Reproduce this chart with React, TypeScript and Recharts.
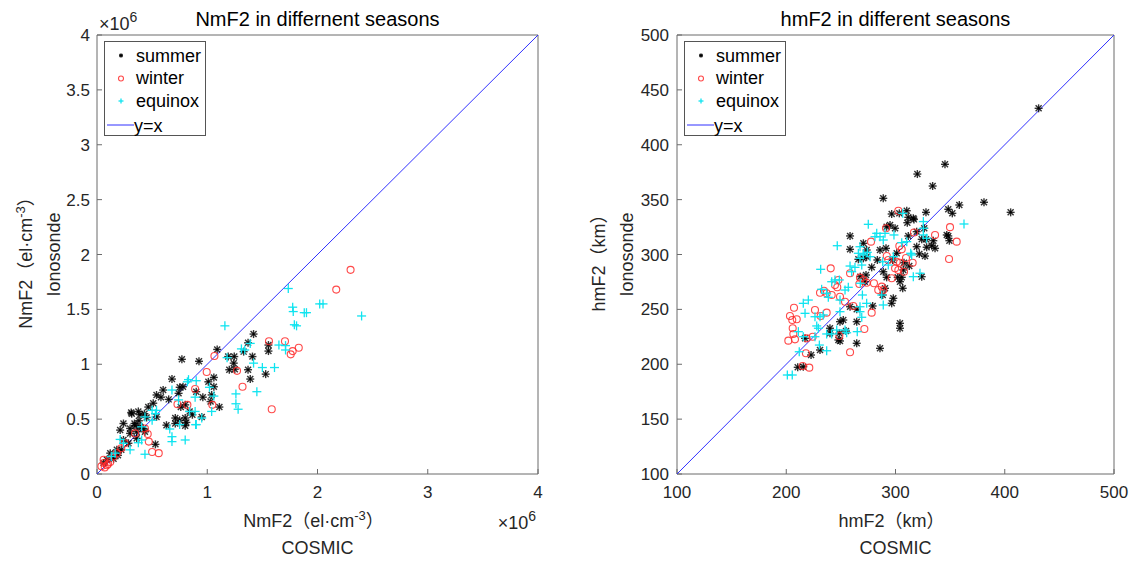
import React from "react";
import {
  ScatterChart,
  Scatter,
  XAxis,
  YAxis,
  Legend,
  Label,
} from "recharts";

type Pair = [number, number];

// NmF2 in units of 10^6 el/cm^3, [COSMIC, Ionosonde]
const nmSummer: Pair[] = [
  [1.42, 1.275], [1.37, 1.195], [1.33, 1.115], [1.09, 1.135], [1.555, 1.175], [1.555, 1.12],
  [1.19, 1.07], [1.245, 1.07], [1.41, 1.07], [1.24, 1.01], [1.2, 0.95], [1.25, 0.955],
  [1.37, 0.95], [1.53, 0.91], [1.39, 0.865], [1.06, 0.88], [1.01, 0.84], [1.06, 0.795],
  [0.77, 1.045], [0.925, 1.027], [0.9, 0.75], [0.96, 0.7], [1.03, 0.66], [1.11, 0.61],
  [0.8, 0.63], [0.76, 0.61], [0.84, 0.57], [0.8, 0.51], [0.8, 0.44], [0.75, 0.49],
  [0.68, 0.865], [0.75, 0.79], [0.58, 0.7], [0.65, 0.68], [0.315, 0.55], [0.39, 0.54],
  [0.54, 0.52], [0.63, 0.445], [0.71, 0.51], [0.38, 0.485], [0.45, 0.515], [0.24, 0.46],
  [0.345, 0.44], [0.21, 0.4], [0.3, 0.415], [0.36, 0.385], [0.42, 0.415], [0.53, 0.27],
  [0.24, 0.31], [0.12, 0.19], [0.18, 0.22], [0.09, 0.13], [0.06, 0.1], [0.31, 0.56],
  [0.375, 0.57], [0.43, 0.55], [0.34, 0.46], [0.39, 0.43], [0.435, 0.385], [0.3, 0.37],
  [0.36, 0.325], [0.285, 0.28], [0.22, 0.22], [0.19, 0.17], [0.15, 0.14], [0.71, 0.46],
  [0.81, 0.47], [0.865, 0.54], [0.95, 0.52], [1.04, 0.72], [0.74, 0.735], [0.78, 0.795],
  [0.6, 0.765], [0.54, 0.72], [0.465, 0.61], [0.51, 0.645],
];

const nmWinter: Pair[] = [
  [2.3, 1.86], [2.17, 1.68], [1.56, 1.21], [1.705, 1.21], [1.775, 1.12], [1.83, 1.15],
  [1.757, 1.09], [1.065, 1.075], [0.995, 0.93], [1.27, 0.94], [1.32, 0.795], [0.89, 0.775],
  [1.585, 0.59], [0.82, 0.63], [1.046, 0.63], [0.73, 0.635], [0.435, 0.415], [0.46, 0.365],
  [0.47, 0.295], [0.5, 0.2], [0.56, 0.19], [0.345, 0.37], [0.25, 0.28], [0.22, 0.235],
  [0.18, 0.19], [0.06, 0.13], [0.09, 0.08], [0.065, 0.1], [0.12, 0.11], [0.15, 0.16],
  [0.07, 0.06], [0.1, 0.09], [0.04, 0.07],
];

const nmEquinox: Pair[] = [
  [1.735, 1.69], [1.775, 1.52], [1.78, 1.48], [1.88, 1.47], [1.9, 1.47], [2.02, 1.55],
  [2.05, 1.55], [2.4, 1.44], [1.79, 1.36], [1.81, 1.35], [1.16, 1.35], [1.65, 1.175],
  [1.71, 1.17], [1.71, 1.13], [1.31, 1.14], [1.5, 0.97], [1.61, 0.97], [1.42, 1.01],
  [1.45, 0.75], [1.26, 0.73], [1.26, 0.64], [1.28, 0.59], [1.06, 0.71], [1.02, 0.79],
  [0.89, 0.7], [0.895, 0.45], [0.95, 0.51], [0.84, 0.57], [0.89, 0.57], [1.04, 0.57],
  [0.83, 0.86], [0.9, 0.85], [1.34, 1.13], [1.39, 1.19], [1.18, 1.06], [0.82, 0.84],
  [0.68, 0.765], [0.74, 0.675], [0.5, 0.58], [0.53, 0.55], [0.9, 0.45], [0.68, 0.34],
  [0.68, 0.295], [0.8, 0.31], [0.66, 0.41], [0.75, 0.45], [0.435, 0.18], [0.375, 0.285],
  [0.405, 0.31], [0.21, 0.315], [0.24, 0.28], [0.3, 0.22], [0.165, 0.19], [0.13, 0.16],
  [0.54, 0.58], [0.5, 0.49], [0.435, 0.52], [0.405, 0.43],
];

// hmF2 in km, [COSMIC, Ionosonde]
const hmSummer: Pair[] = [
  [334, 362.4], [288.8, 351.2], [358.4, 345.1], [381, 347.6], [405.4, 338.4], [348.3, 341.2],
  [352, 337.5], [327.9, 338.4], [296.5, 336.9], [303.5, 337.5], [311.7, 333.9], [316.9, 332],
  [310.8, 329], [291.9, 325.3], [295, 326.9], [299.6, 323.9], [258.4, 316.9], [311.7, 316.9],
  [319.4, 320.8], [324, 313.8], [327.9, 313.8], [334.6, 312.6], [333.1, 308], [328.5, 306.6],
  [336.2, 305.6], [348.3, 316.9], [349.3, 312.6], [319.4, 307.1], [321.8, 300.5], [327, 298.6],
  [258.4, 304.7], [285.8, 304.1], [291.3, 305.6], [266, 295.6], [270.6, 296.5], [273.6, 298],
  [283.4, 295], [297.4, 295], [301.1, 301.1], [307.8, 292.5], [312.6, 289.5], [278.2, 288.3],
  [273, 281.3], [288.8, 284.3], [291.9, 279.2], [302, 279.2], [305.7, 279.2], [307.1, 285.9],
  [324, 279.8], [267.8, 279.8], [271.9, 275.2], [304.1, 275.2], [306.6, 269.2], [290.4, 269.2],
  [288.3, 263.1], [298, 260.1], [296.5, 255.5], [279.1, 253.1], [258.4, 252.4], [264.5, 250.1],
  [252.2, 240.3], [240, 232.8], [264.5, 238.8], [304.1, 237.3], [304.1, 232.8], [248.6, 228.2],
  [247.7, 222.1], [264.5, 219.1], [285.8, 214.5], [230.9, 213], [222.7, 208.4], [210.5, 197.2],
  [217.2, 223.6], [431, 433.2], [345.3, 382.2], [320, 373.3], [326.3, 323.9], [310.3, 339.9],
  [316.3, 333], [346.9, 317.8], [270.6, 310.2], [273.6, 304.1], [215.6, 197.8], [249.2, 238.8],
  [254.7, 230.3], [240, 228.2], [249.2, 221.2],
];

const hmWinter: Pair[] = [
  [302.6, 339.9], [291.3, 323.9], [316.9, 320], [336.2, 317.8], [349.9, 324.9], [356, 311.7],
  [349, 295.9], [277.6, 311.7], [305.7, 304.7], [303.5, 307.7], [292, 298.6], [293.4, 295],
  [301.1, 293.4], [304.1, 292.5], [299.6, 287.4], [302.6, 285.9], [307.8, 284.3], [315.7, 292.5],
  [296.5, 278.3], [267.5, 278.9], [270.6, 276.8], [266.9, 273.1], [273.6, 274.3], [280.3, 273.8],
  [284.2, 267.6], [287.4, 270.7], [288.8, 267.6], [240.7, 287.4], [258.4, 282.9], [247.7, 276.8],
  [244.6, 272.2], [246.7, 270.1], [230.9, 265.2], [234.5, 267], [237, 264.7], [241.6, 263.1],
  [249.2, 261.5], [253.8, 257], [261.4, 253.1], [278.2, 247], [237, 247], [231.5, 244],
  [226.3, 249.4], [207.1, 251.5], [203.4, 244], [205.5, 240.3], [209.6, 241], [205.9, 232.8],
  [206.5, 227.6], [208, 222.7], [201.9, 221.5], [224.2, 225.1], [218.7, 223.6], [248.6, 225.7],
  [271.5, 232.1], [258.4, 210.9], [218, 210], [215, 198.4], [221.1, 196.9], [309.6, 296.8],
];

const hmEquinox: Pair[] = [
  [362.7, 327.8], [275.1, 327.5], [306.6, 337.5], [325.5, 330], [325.5, 323.9], [282.8, 319.3],
  [285.8, 316.2], [288.8, 313.2], [298.6, 317.8], [305.7, 310.8], [310.3, 311.7], [325.5, 317.8],
  [328.5, 314.8], [246.7, 308], [266, 301.1], [270.6, 300.5], [274.2, 302], [276.7, 298],
  [267.5, 296.5], [288.3, 293.4], [293.4, 290.4], [298, 298], [314.8, 299.6], [316.3, 279.8],
  [322.4, 282.9], [231.5, 286.5], [241.6, 275.2], [244.6, 276.8], [248.6, 276.8], [258.4, 289.5],
  [259.9, 284.3], [262.9, 288.3], [253.8, 267.6], [256.8, 270.1], [267.8, 273.8], [269.7, 263.1],
  [232.4, 268.3], [237, 264.7], [238.5, 261], [220.2, 258.5], [215.6, 255.5], [249.2, 258.5],
  [249.2, 247.9], [267.5, 252.4], [267.5, 247.9], [269.1, 242.8], [273.6, 255.5], [288.8, 254],
  [287.4, 263.1], [226.3, 243.3], [230.9, 243.3], [233.9, 244.9], [217.2, 246.4], [227.9, 234.9],
  [229.4, 232.8], [237, 227.6], [241.6, 227.6], [246.2, 231.2], [253.8, 231.2], [255.3, 228.7],
  [265, 229.7], [211.1, 229.7], [215.6, 225.1], [226.3, 225.1], [230.3, 217.5], [237, 212.3],
  [211.9, 211.4], [201, 190.2], [205.5, 190.2], [281.2, 316.2], [290.4, 319.3], [313.9, 301.1],
  [267.5, 307.1], [270.6, 299.6], [269.1, 290.4],
];

const nmTicksX = [0, 1, 2, 3, 4];
const nmTicksY = [0, 0.5, 1, 1.5, 2, 2.5, 3, 3.5, 4];
const hmTicksX = [100, 200, 300, 400, 500];
const hmTicksY = [100, 150, 200, 250, 300, 350, 400, 450, 500];

const seasonNames = ["summer", "winter", "equinox"];
const lineName = "y=x";

const FONT = '"Liberation Sans", Arial, Helvetica, "Noto Sans CJK SC", sans-serif';
const AXIS = "#6b6b6b";
const TEXT = "#262626";
const BLUE = "#3030ff";

const toPoints = (pairs: Pair[]) => pairs.map(([x, y]) => ({ x, y }));

const Star = ({ cx, cy, s = 4 }: any) => {
  const d = s * 0.75;
  return (
    <g stroke="#000" strokeWidth={1.4} strokeOpacity={0.8}>
      <line x1={cx - s} y1={cy} x2={cx + s} y2={cy} />
      <line x1={cx} y1={cy - s} x2={cx} y2={cy + s} />
      <line x1={cx - d} y1={cy - d} x2={cx + d} y2={cy + d} />
      <line x1={cx - d} y1={cy + d} x2={cx + d} y2={cy - d} />
    </g>
  );
};

const Ring = ({ cx, cy, r = 3.5 }: any) => (
  <circle cx={cx} cy={cy} r={r} fill="none" stroke="#ff2a2a" strokeOpacity={0.85} strokeWidth={1.1} />
);

const Plus = ({ cx, cy, s = 4.5 }: any) => (
  <g stroke="#10e4f0" strokeWidth={1.3}>
    <line x1={cx - s} y1={cy} x2={cx + s} y2={cy} />
    <line x1={cx} y1={cy - s} x2={cx} y2={cy + s} />
  </g>
);

const LegendBox = () => (
  <svg width={102} height={95} style={{ display: "block" }}>
    <rect x={0.5} y={0.5} width={101} height={94} fill="#fff" stroke="#555" strokeWidth={1} />
    <Star cx={17} cy={14.5} s={2} />
    <Ring cx={17} cy={37.5} r={2.5} />
    <Plus cx={17} cy={60} s={2.5} />
    <line x1={3} y1={84} x2={30} y2={84} stroke={BLUE} strokeWidth={1} />
    {[...seasonNames, lineName].map((name, i) => (
      <text
        key={name}
        x={i === 3 ? 30 : 32}
        y={i === 3 ? 90.5 : 20.5 + i * 22.7}
        fontFamily={FONT}
        fontSize={18}
        fill="#000"
      >
        {name}
      </text>
    ))}
  </svg>
);

type PanelProps = {
  title: string;
  left: number;
  marginLeft: number;
  marginRight: number;
  domain: [number, number];
  ticksX: number[];
  ticksY: number[];
  summer: Pair[];
  winter: Pair[];
  equinox: Pair[];
  xMain: React.ReactNode;
  yMain: React.ReactNode;
  exponent: boolean;
  yLabelX: [number, number];
  yTickMargin: number;
};

const Panel = (p: PanelProps) => {
  const topLabel = ({ viewBox }: any) => {
    const { x, y, width, height } = viewBox;
    const top = y + height;
    return (
      <g fontFamily={FONT}>
        <text x={x + width / 2} y={top - 9} textAnchor="middle" fontSize={20} fill="#000">
          {p.title}
        </text>
        {p.exponent && (
          <text x={x + 2} y={top - 5} fontSize={18} fill={TEXT}>
            ×10<tspan dy={-8} fontSize={14}>6</tspan>
          </text>
        )}
      </g>
    );
  };

  const bottomLabel = ({ viewBox }: any) => {
    const { x, y, width } = viewBox;
    const cx = x + width / 2;
    return (
      <g fontFamily={FONT} fontSize={18} fill={TEXT}>
        <text x={cx - 4} y={y + 53} textAnchor="middle">
          {p.xMain}
        </text>
        <text x={cx} y={y + 80} textAnchor="middle">
          COSMIC
        </text>
        {p.exponent && (
          <text x={x + width - 2} y={y + 55} textAnchor="end">
            ×10<tspan dy={-8} fontSize={14}>6</tspan>
          </text>
        )}
      </g>
    );
  };

  const leftLabel = ({ viewBox }: any) => {
    const { x, y, width, height } = viewBox;
    const plotLeft = x + width;
    const cy = y + height / 2;
    const [a, b] = p.yLabelX;
    return (
      <g fontFamily={FONT} fontSize={18} fill={TEXT}>
        <text
          x={plotLeft - a}
          y={cy + 4}
          textAnchor="middle"
          transform={`rotate(-90 ${plotLeft - a} ${cy + 4})`}
        >
          {p.yMain}
        </text>
        <text
          x={plotLeft - b}
          y={cy}
          textAnchor="middle"
          transform={`rotate(-90 ${plotLeft - b} ${cy})`}
        >
          Ionosonde
        </text>
      </g>
    );
  };

  const tickStyle = { fontFamily: FONT, fontSize: 17, fill: TEXT };
  const diagonal = toPoints([
    [p.domain[0], p.domain[0]],
    [p.domain[1], p.domain[1]],
  ]);

  return (
    <div style={{ position: "absolute", left: p.left, top: 0 }}>
      <ScatterChart
        width={568}
        height={563}
        margin={{ top: 34, right: p.marginRight - 1, bottom: 59, left: p.marginLeft }}
      >
        <XAxis
          xAxisId="b"
          dataKey="x"
          type="number"
          domain={p.domain}
          ticks={p.ticksX}
          interval={0}
          allowDataOverflow
          height={30}
          stroke={AXIS}
          tickSize={-5}
          tickMargin={17}
          tick={tickStyle}
        >
          <Label content={bottomLabel} />
        </XAxis>
        <XAxis
          xAxisId="t"
          dataKey="x"
          orientation="top"
          type="number"
          domain={p.domain}
          ticks={p.ticksX}
          interval={0}
          allowDataOverflow
          height={1}
          stroke={AXIS}
          tickSize={-5}
          tick={false}
        >
          <Label content={topLabel} />
        </XAxis>
        <YAxis
          yAxisId="l"
          dataKey="y"
          type="number"
          domain={p.domain}
          ticks={p.ticksY}
          interval={0}
          allowDataOverflow
          width={60}
          stroke={AXIS}
          tickSize={-5}
          tickMargin={p.yTickMargin}
          tick={tickStyle}
        >
          <Label content={leftLabel} />
        </YAxis>
        <YAxis
          yAxisId="r"
          dataKey="y"
          orientation="right"
          type="number"
          domain={p.domain}
          ticks={p.ticksY}
          interval={0}
          allowDataOverflow
          width={1}
          stroke={AXIS}
          tickSize={-5}
          tick={false}
        />
        <Scatter
          name={lineName}
          xAxisId="t"
          yAxisId="r"
          data={diagonal}
          line={{ stroke: BLUE, strokeWidth: 1 }}
          shape={() => <g />}
          isAnimationActive={false}
        />
        <Scatter
          name="summer"
          xAxisId="b"
          yAxisId="l"
          data={toPoints(p.summer)}
          shape={(s: any) => <Star cx={s.cx} cy={s.cy} />}
          isAnimationActive={false}
        />
        <Scatter
          name="winter"
          xAxisId="b"
          yAxisId="l"
          data={toPoints(p.winter)}
          shape={(s: any) => <Ring cx={s.cx} cy={s.cy} />}
          isAnimationActive={false}
        />
        <Scatter
          name="equinox"
          xAxisId="b"
          yAxisId="l"
          data={toPoints(p.equinox)}
          shape={(s: any) => <Plus cx={s.cx} cy={s.cy} />}
          isAnimationActive={false}
        />
        <Legend
          layout="vertical"
          align="center"
          verticalAlign="middle"
          content={() => <LegendBox />}
          wrapperStyle={{ left: p.marginLeft + 60 + 7, top: 41, width: 102, height: 95 }}
        />
      </ScatterChart>
    </div>
  );
}

export default function App() {
  return (
    <div
      style={{
        position: "absolute",
        left: 0,
        top: 0,
        width: 1136,
        height: 563,
        background: "#fff",
      }}
    >
      <Panel
        title="NmF2 in differnent seasons"
        left={0}
        marginLeft={37}
        marginRight={30}
        domain={[0, 4]}
        ticksX={nmTicksX}
        ticksY={nmTicksY}
        summer={nmSummer}
        winter={nmWinter}
        equinox={nmEquinox}
        xMain={
          <>
            NmF2（el·cm<tspan dy={-7} fontSize={13}>-3</tspan>
            <tspan dy={7}>）</tspan>
          </>
        }
        yMain={
          <>
            NmF2（el·cm<tspan dy={-7} fontSize={13}>-3</tspan>
            <tspan dy={7}>）</tspan>
          </>
        }
        exponent
        yLabelX={[65, 37]}
        yTickMargin={12}
      />
      <Panel
        title="hmF2 in different seasons"
        left={568}
        marginLeft={49}
        marginRight={22}
        domain={[100, 500]}
        ticksX={hmTicksX}
        ticksY={hmTicksY}
        summer={hmSummer}
        winter={hmWinter}
        equinox={hmEquinox}
        xMain="hmF2（km）"
        yMain="hmF2（km）"
        exponent={false}
        yLabelX={[72, 44]}
        yTickMargin={13}
      />
    </div>
  );
}
